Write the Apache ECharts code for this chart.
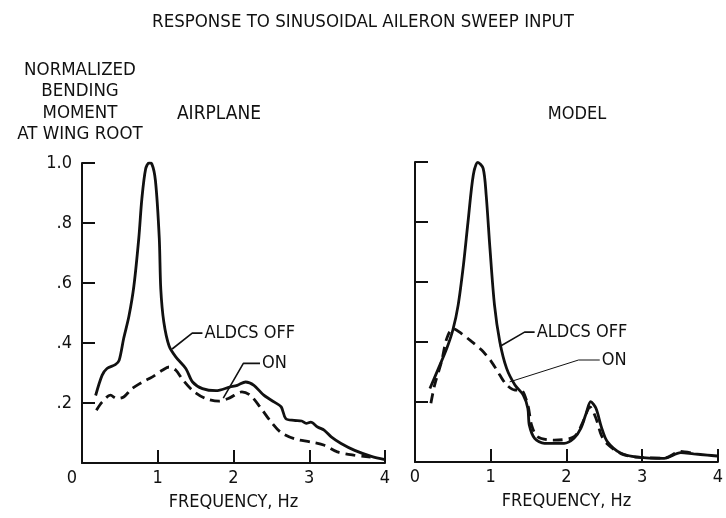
<!DOCTYPE html>
<html>
<head>
<meta charset="utf-8">
<script src="https://cdn.jsdelivr.net/npm/echarts@6/dist/echarts.min.js"></script>
<style>
  html, body { margin: 0; padding: 0; background: #fff; }
  #chart { width: 726px; height: 518px; }
</style>
</head>
<body>
<div id="chart"></div>
<script>
// tick labels
const freqTicks = [0, 1, 2, 3, 4]
const momentTicks = [0, 0.2, 0.4, 0.6, 0.8, 1.0]

// airplane, [frequency Hz, normalized moment]
const airplaneOff = [
  [0.18, 0.225], [0.265, 0.292], [0.33, 0.315], [0.44, 0.328], [0.49, 0.342],
  [0.55, 0.415], [0.62, 0.49], [0.685, 0.59], [0.75, 0.75], [0.79, 0.88],
  [0.84, 0.98], [0.885, 1.0], [0.92, 0.998], [0.97, 0.94], [1.02, 0.75],
  [1.04, 0.58], [1.08, 0.47], [1.15, 0.39], [1.24, 0.353], [1.37, 0.315],
  [1.46, 0.27], [1.59, 0.248], [1.77, 0.241], [1.95, 0.253], [2.05, 0.259],
  [2.16, 0.27], [2.27, 0.259], [2.40, 0.226], [2.54, 0.203], [2.63, 0.187],
  [2.69, 0.148], [2.80, 0.142], [2.90, 0.14], [2.96, 0.132], [3.02, 0.136],
  [3.11, 0.12], [3.2, 0.109], [3.29, 0.087], [3.42, 0.065], [3.6, 0.042],
  [3.82, 0.022], [4.0, 0.011]
]
const airplaneOn = [
  [0.19, 0.176], [0.265, 0.203], [0.375, 0.226], [0.46, 0.215], [0.55, 0.22],
  [0.66, 0.248], [0.8, 0.27], [0.93, 0.287], [1.06, 0.309], [1.15, 0.32],
  [1.24, 0.309], [1.32, 0.281], [1.46, 0.242], [1.63, 0.215], [1.81, 0.206],
  [1.95, 0.217], [2.11, 0.237], [2.22, 0.226], [2.35, 0.187], [2.48, 0.142],
  [2.62, 0.103], [2.80, 0.081], [3.02, 0.07], [3.2, 0.059], [3.37, 0.037],
  [3.59, 0.026], [3.81, 0.02]
]

// model
const modelOff = [
  [0.197, 0.245], [0.31, 0.312], [0.42, 0.379], [0.5, 0.44], [0.57, 0.523],
  [0.64, 0.657], [0.7, 0.8], [0.77, 0.957], [0.83, 0.999], [0.9, 0.979],
  [0.94, 0.89], [0.99, 0.712], [1.05, 0.523], [1.12, 0.401], [1.21, 0.312],
  [1.32, 0.257], [1.43, 0.223], [1.49, 0.179], [1.51, 0.123], [1.58, 0.079],
  [1.71, 0.062], [1.84, 0.062], [1.97, 0.062], [2.1, 0.079], [2.19, 0.112],
  [2.26, 0.162], [2.32, 0.201], [2.39, 0.179], [2.46, 0.118], [2.54, 0.068],
  [2.72, 0.029], [2.94, 0.016], [3.29, 0.012], [3.51, 0.031], [3.68, 0.027],
  [3.86, 0.023], [3.99, 0.02]
]
const modelOn = [
  [0.21, 0.196], [0.26, 0.257], [0.35, 0.334], [0.42, 0.412], [0.5, 0.445],
  [0.61, 0.429], [0.75, 0.401], [0.88, 0.373], [1.01, 0.334], [1.12, 0.29],
  [1.21, 0.257], [1.32, 0.24], [1.4, 0.24], [1.49, 0.19], [1.54, 0.123],
  [1.62, 0.084], [1.84, 0.073], [2.1, 0.084], [2.21, 0.129], [2.28, 0.173],
  [2.31, 0.184], [2.39, 0.146], [2.46, 0.09], [2.54, 0.06], [2.72, 0.028],
  [2.94, 0.016], [3.29, 0.013], [3.51, 0.035], [3.68, 0.028]
]

// leader lines: text end, elbow, curve point
const leaders = [
  { grid: 0, text: 'ALDCS OFF', pts: [[1.59, 0.433], [1.455, 0.433], [1.19, 0.38]], width: 1.6 },
  { grid: 0, text: 'ON', pts: [[2.35, 0.332], [2.13, 0.332], [1.865, 0.216]], width: 1.6 },
  { grid: 1, text: 'ALDCS OFF', pts: [[1.58, 0.433], [1.447, 0.433], [1.12, 0.385]], width: 1.6 },
  { grid: 1, text: 'ON', pts: [[2.44, 0.34], [2.16, 0.34], [1.25, 0.267]], width: 1 }
]

const FONT = '"Liberation Sans Narrow", "DejaVu Sans Condensed", sans-serif'
const INK = '#111'

const chart = echarts.init(document.getElementById('chart'), null, { renderer: 'canvas' })

function xAxisFor(gridIndex, shiftZero) {
  return {
    type: 'value', gridIndex, min: 0, max: 4, interval: 1,
    name: 'FREQUENCY, Hz', nameLocation: 'middle', nameGap: 30,
    nameTextStyle: { fontFamily: FONT, fontSize: 18, color: INK },
    axisLine: { lineStyle: { color: INK, width: 2 } },
    axisTick: { inside: true, length: 13, lineStyle: { color: INK, width: 2 } },
    axisLabel: {
      fontFamily: FONT, fontSize: 18, color: INK, margin: 6,
      formatter: v => (shiftZero && v === 0 ? '{z|0}' : String(v)),
      rich: { z: { fontFamily: FONT, fontSize: 18, color: INK, padding: [0, 20, 0, 0] } }
    },
    splitLine: { show: false }
  }
}

function yAxisFor(gridIndex, showLabels) {
  return {
    type: 'value', gridIndex, min: 0, max: 1, interval: 0.2,
    axisLine: { lineStyle: { color: INK, width: 2 } },
    axisTick: { inside: true, length: 13, lineStyle: { color: INK, width: 2 } },
    axisLabel: {
      show: showLabels, fontFamily: FONT, fontSize: 18, color: INK, margin: 10,
      formatter: v => (v === 0 ? '' : v === 1 ? '1.0' : String(v).replace(/^0/, ''))
    },
    splitLine: { show: false }
  }
}

function curve(data, gridIndex, dashed) {
  return {
    type: 'line', xAxisIndex: gridIndex, yAxisIndex: gridIndex, data,
    smooth: 0.3, showSymbol: false, silent: true,
    lineStyle: { color: INK, width: 2.8, type: dashed ? [10, 6] : 'solid' }
  }
}

const series = [
  curve(airplaneOff, 0, false),
  curve(airplaneOn, 0, true),
  curve(modelOff, 1, false),
  curve(modelOn, 1, true)
]

leaders.forEach(l => {
  series.push({
    type: 'line', xAxisIndex: l.grid, yAxisIndex: l.grid, silent: true,
    showSymbol: true, symbol: 'circle', symbolSize: 0,
    lineStyle: { color: INK, width: l.width },
    label: { show: false },
    data: l.pts.map((p, i) => i === 0
      ? { value: p, label: { show: true, position: 'right', distance: 2, formatter: l.text,
          fontFamily: FONT, fontSize: 18, color: INK } }
      : { value: p })
  })
})

chart.setOption({
  backgroundColor: '#fff',
  animation: false,
  title: {
    text: 'RESPONSE TO SINUSOIDAL AILERON SWEEP INPUT',
    left: 'center', top: 8,
    textStyle: { fontFamily: FONT, fontSize: 18.5, fontWeight: 'normal', color: INK }
  },
  grid: [
    { left: 82, top: 163, width: 303, height: 300 },
    { left: 415, top: 162, width: 304, height: 300 }
  ],
  xAxis: [xAxisFor(0, true), xAxisFor(1, false)],
  yAxis: [yAxisFor(0, true), yAxisFor(1, false)],
  graphic: [
    {
      type: 'text', style: {
        text: 'NORMALIZED\nBENDING\nMOMENT\nAT WING ROOT', x: 80, y: 59,
        align: 'center', fontFamily: FONT, fontSize: 18.5, lineHeight: 21.5, fill: INK
      }
    },
    { type: 'text', style: { text: 'AIRPLANE', x: 219, y: 105, align: 'center', fontFamily: FONT, fontSize: 19, fill: INK } },
    { type: 'text', style: { text: 'MODEL', x: 577, y: 105, align: 'center', fontFamily: FONT, fontSize: 18, fill: INK } }
  ],
  series
})
</script>
</body>
</html>
